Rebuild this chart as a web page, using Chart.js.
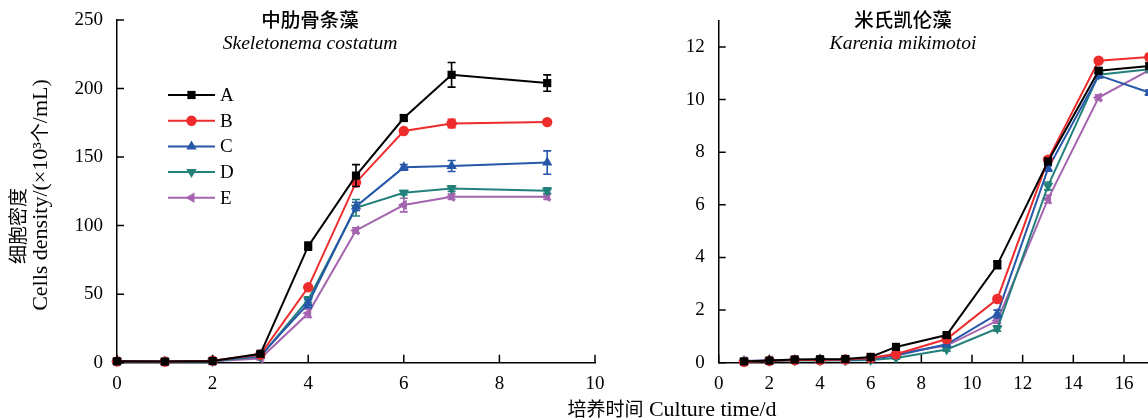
<!DOCTYPE html>
<html>
<head>
<meta charset="utf-8">
<script src="https://cdn.jsdelivr.net/npm/chart.js@4.4.1/dist/chart.umd.min.js"></script>
<style>
  html, body { margin: 0; padding: 0; background: #fff; overflow: hidden; }
  #wrap { position: relative; width: 1148px; height: 420px; overflow: hidden; background: #fff; }
  canvas { position: absolute; top: 0; }
  #c1 { left: 0; }
  #c2 { left: 640px; }
  .lbl {
    position: absolute; white-space: nowrap; color: #000; line-height: 1;
    font-family: "Liberation Serif", "Noto Sans CJK SC", serif; font-size: 22px;
    transform: translate(-50%, -50%);
  }
  .cjk { font-family: "Noto Sans CJK SC", sans-serif; font-size: 19px; }
  .rot { transform: translate(-50%, -50%) rotate(-90deg); }
</style>
</head>
<body>
<div id="wrap">
  <canvas id="c1" width="640" height="420"></canvas>
  <canvas id="c2" width="660" height="420"></canvas>
  <div class="lbl rot" style="left:18px; top:226px;"><span class="cjk">细胞密度</span></div>
  <div class="lbl rot" style="left:40px; top:195px;">Cells density/(×10³<span class="cjk">个</span>/mL)</div>
  <div class="lbl" style="left:672px; top:409px;"><span class="cjk">培养时间</span> Culture time/d</div>
</div>
<script>
// Skeletonema costatum: culture day and cell density (×10³ cells/mL)
const daysS = [0, 1, 2, 3, 4, 5, 6, 7, 9];
const skelA = [1, 0.8, 1.2, 6.5, 85, 136.5, 178.5, 210, 204];
const skelB = [1, 0.8, 1.5, 6, 55, 131.5, 169, 174.5, 175.5];
const skelC = [1, 0.8, 1.5, 5, 43, 114, 142.5, 143.5, 146];
const skelD = [1, 0.8, 1, 4.5, 46, 113, 124, 127, 125.5];
const skelE = [1, 0.8, 1, 3, 36, 96.5, 115, 121, 121];
const skelErrA = [0, 0, 0, 1, 3, 8, 2, 9, 6];
const skelErrB = [0, 0, 0, 1, 1, 2, 1.5, 3, 1];
const skelErrC = [0, 0, 1, 1, 3, 3, 2, 4, 8.5];
const skelErrD = [0, 0, 0, 1, 2, 6, 1.5, 2, 2];
const skelErrE = [0, 0, 0, 1, 3, 2, 5, 2, 2];

// Karenia mikimotoi: culture day and cell density (×10³ cells/mL)
const daysK = [1, 2, 3, 4, 5, 6, 7, 9, 11, 13, 15, 17];
const kareA = [0.05, 0.08, 0.12, 0.13, 0.14, 0.22, 0.6, 1.05, 3.72, 7.65, 11.1, 11.28];
const kareB = [0.03, 0.07, 0.1, 0.1, 0.12, 0.18, 0.32, 0.9, 2.42, 7.72, 11.48, 11.62];
const kareC = [0.06, 0.08, 0.1, 0.12, 0.1, 0.15, 0.27, 0.7, 1.85, 7.38, 10.92, 10.27];
const kareD = [0.05, 0.06, 0.08, 0.08, 0.08, 0.1, 0.18, 0.5, 1.3, 6.72, 10.95, 11.15];
const kareE = [0.06, 0.08, 0.1, 0.1, 0.11, 0.17, 0.35, 0.65, 1.6, 6.22, 10.08, 11.12];
const kareErrA = [0, 0, 0, 0, 0, 0, 0.05, 0.08, 0.15, 0.1, 0.1, 0.1];
const kareErrB = [0, 0, 0, 0, 0, 0, 0.05, 0.1, 0.1, 0.1, 0.1, 0.1];
const kareErrC = [0, 0, 0, 0, 0, 0, 0.05, 0.08, 0.15, 0.1, 0.1, 0.1];
const kareErrD = [0, 0, 0, 0, 0, 0, 0.05, 0.06, 0.1, 0.15, 0.1, 0.1];
const kareErrE = [0, 0, 0, 0, 0, 0, 0.05, 0.06, 0.1, 0.15, 0.1, 0.1];

// Treatment groups and tick labels
const groups = ['A', 'B', 'C', 'D', 'E'];
const yTicksS = [0, 50, 100, 150, 200, 250];
const xTicksS = [0, 2, 4, 6, 8, 10];
const yTicksK = [0, 2, 4, 6, 8, 10, 12];
const xTicksK = [0, 2, 4, 6, 8, 10, 12, 14, 16, 18, 20];

const colors = ['#000000', '#ee2c2c', '#2657a8', '#23807a', '#a464af'];
const styles = [
  { pointStyle: 'rect', radius: 5.8, rotation: 0 },
  { pointStyle: 'circle', radius: 5.2, rotation: 0 },
  { pointStyle: 'triangle', radius: 6, rotation: 0 },
  { pointStyle: 'triangle', radius: 6, rotation: 180 },
  { pointStyle: 'triangle', radius: 6, rotation: 270 }
];

const SERIF = '"Liberation Serif", "Noto Sans CJK SC", serif';

function makeDatasets(days, series, errs) {
  return series.map((vals, i) => ({
    label: groups[i],
    data: days.map((d, k) => ({ x: d, y: vals[k] })),
    errors: errs[i],
    borderColor: colors[i],
    backgroundColor: colors[i],
    borderWidth: 2,
    pointStyle: styles[i].pointStyle,
    pointRadius: styles[i].radius,
    pointRotation: styles[i].rotation,
    pointBorderWidth: 0,
    tension: 0,
    clip: false
  }));
}

// Vertical error bars with caps, drawn right after each series
const errorBars = {
  id: 'errorBars',
  afterDatasetDraw(chart, args) {
    const ds = chart.data.datasets[args.index];
    if (!ds.errors) return;
    const ctx = chart.ctx, ys = chart.scales.y;
    ctx.save();
    ctx.strokeStyle = ds.borderColor;
    ctx.lineWidth = 1.6;
    args.meta.data.forEach((pt, i) => {
      const e = ds.errors[i];
      if (!e) return;
      const v = ds.data[i].y;
      const y1 = ys.getPixelForValue(v + e), y2 = ys.getPixelForValue(v - e);
      const x = pt.x;
      ctx.beginPath();
      ctx.moveTo(x, y1); ctx.lineTo(x, y2);
      ctx.moveTo(x - 4, y1); ctx.lineTo(x + 4, y1);
      ctx.moveTo(x - 4, y2); ctx.lineTo(x + 4, y2);
      ctx.stroke();
    });
    ctx.restore();
  }
};

// Tick marks pointing into the plot area
const innerTicks = {
  id: 'innerTicks',
  afterDraw(chart) {
    const ctx = chart.ctx, xs = chart.scales.x, ys = chart.scales.y;
    ctx.save();
    ctx.strokeStyle = '#000';
    ctx.lineWidth = 1.5;
    ctx.beginPath();
    xs.ticks.forEach(t => {
      const px = xs.getPixelForValue(t.value);
      ctx.moveTo(px, ys.bottom); ctx.lineTo(px, ys.bottom - 8);
    });
    ys.ticks.forEach(t => {
      const py = ys.getPixelForValue(t.value);
      ctx.moveTo(xs.left, py); ctx.lineTo(xs.left + 7, py);
    });
    ctx.stroke();
    ctx.restore();
  }
};

// Two-line panel heading: Chinese name over italic Latin name
const panelTitle = {
  id: 'panelTitle',
  afterDraw(chart, args, opts) {
    if (!opts || !opts.cn) return;
    const ctx = chart.ctx;
    ctx.save();
    ctx.fillStyle = '#000';
    ctx.textAlign = 'center';
    ctx.textBaseline = 'middle';
    ctx.font = '500 19.5px "Noto Sans CJK SC", sans-serif';
    ctx.fillText(opts.cn, opts.cx, 20);
    ctx.font = 'italic 19.6px ' + SERIF;
    ctx.fillText(opts.latin, opts.cx, 44);
    ctx.restore();
  }
};

// Legend listing the treatment groups inside the plot
const groupLegend = {
  id: 'groupLegend',
  afterDraw(chart, args, opts) {
    if (!opts || !opts.show) return;
    const ctx = chart.ctx;
    ctx.save();
    chart.data.datasets.forEach((ds, i) => {
      const y = opts.y0 + i * opts.dy;
      ctx.strokeStyle = ds.borderColor;
      ctx.lineWidth = 2;
      ctx.beginPath();
      ctx.moveTo(opts.x0, y); ctx.lineTo(opts.x1, y);
      ctx.stroke();
      ctx.fillStyle = ds.backgroundColor;
      Chart.helpers.drawPoint(ctx, {
        pointStyle: ds.pointStyle, radius: ds.pointRadius,
        rotation: ds.pointRotation, borderWidth: 0
      }, (opts.x0 + opts.x1) / 2, y);
      ctx.fillStyle = '#000';
      ctx.font = '19px ' + SERIF;
      ctx.textAlign = 'left';
      ctx.textBaseline = 'middle';
      ctx.fillText(ds.label, opts.x1 + 5, y + 1);
    });
    ctx.restore();
  }
};

function makeChart(canvasId, datasets, cfg) {
  return new Chart(document.getElementById(canvasId), {
    type: 'line',
    data: { datasets },
    plugins: [errorBars, innerTicks, panelTitle, groupLegend],
    options: {
      responsive: false,
      animation: false,
      devicePixelRatio: 1,
      layout: { padding: { left: 0, top: cfg.top, right: cfg.right, bottom: 0 } },
      scales: {
        x: {
          type: 'linear', min: cfg.xMin, max: cfg.xMax,
          afterBuildTicks: s => { s.ticks = cfg.xTicks.map(v => ({ value: v })); },
          afterFit: s => { s.height = 420 - cfg.bottom; },
          grid: { display: false },
          border: { display: true, color: '#000', width: 1.5 },
          ticks: { color: '#000', font: { family: SERIF, size: 19 }, padding: 2, maxRotation: 0, autoSkip: false }
        },
        y: {
          type: 'linear', min: 0, max: cfg.yMax,
          afterBuildTicks: s => { s.ticks = cfg.yTicks.map(v => ({ value: v })); },
          afterFit: s => { s.width = cfg.left; },
          grid: { display: false },
          border: { display: true, color: '#000', width: 1.5 },
          ticks: { color: '#000', font: { family: SERIF, size: 19 }, padding: 6 }
        }
      },
      plugins: {
        legend: { display: false },
        tooltip: { enabled: false },
        title: { display: false },
        panelTitle: cfg.title,
        groupLegend: cfg.legend
      }
    }
  });
}

makeChart('c1',
  makeDatasets(daysS, [skelA, skelB, skelC, skelD, skelE],
    [skelErrA, skelErrB, skelErrC, skelErrD, skelErrE]),
  {
    left: 117, top: 20, right: 45, bottom: 362.7,
    xMin: 0, xMax: 10, yMax: 250, xTicks: xTicksS, yTicks: yTicksS,
    title: { cn: '中肋骨条藻', latin: 'Skeletonema costatum', cx: 310 },
    legend: { show: true, x0: 168, x1: 215, y0: 95, dy: 25.7 }
  });

makeChart('c2',
  makeDatasets(daysK, [kareA, kareB, kareC, kareD, kareE],
    [kareErrA, kareErrB, kareErrC, kareErrD, kareErrE]),
  {
    left: 78.7, top: 20.7, right: 660 - 585.3, bottom: 362.7,
    xMin: 0, xMax: 20, yMax: 13, xTicks: xTicksK, yTicks: yTicksK,
    title: { cn: '米氏凯伦藻', latin: 'Karenia mikimotoi', cx: 263 },
    legend: { show: false }
  });
</script>
</body>
</html>
